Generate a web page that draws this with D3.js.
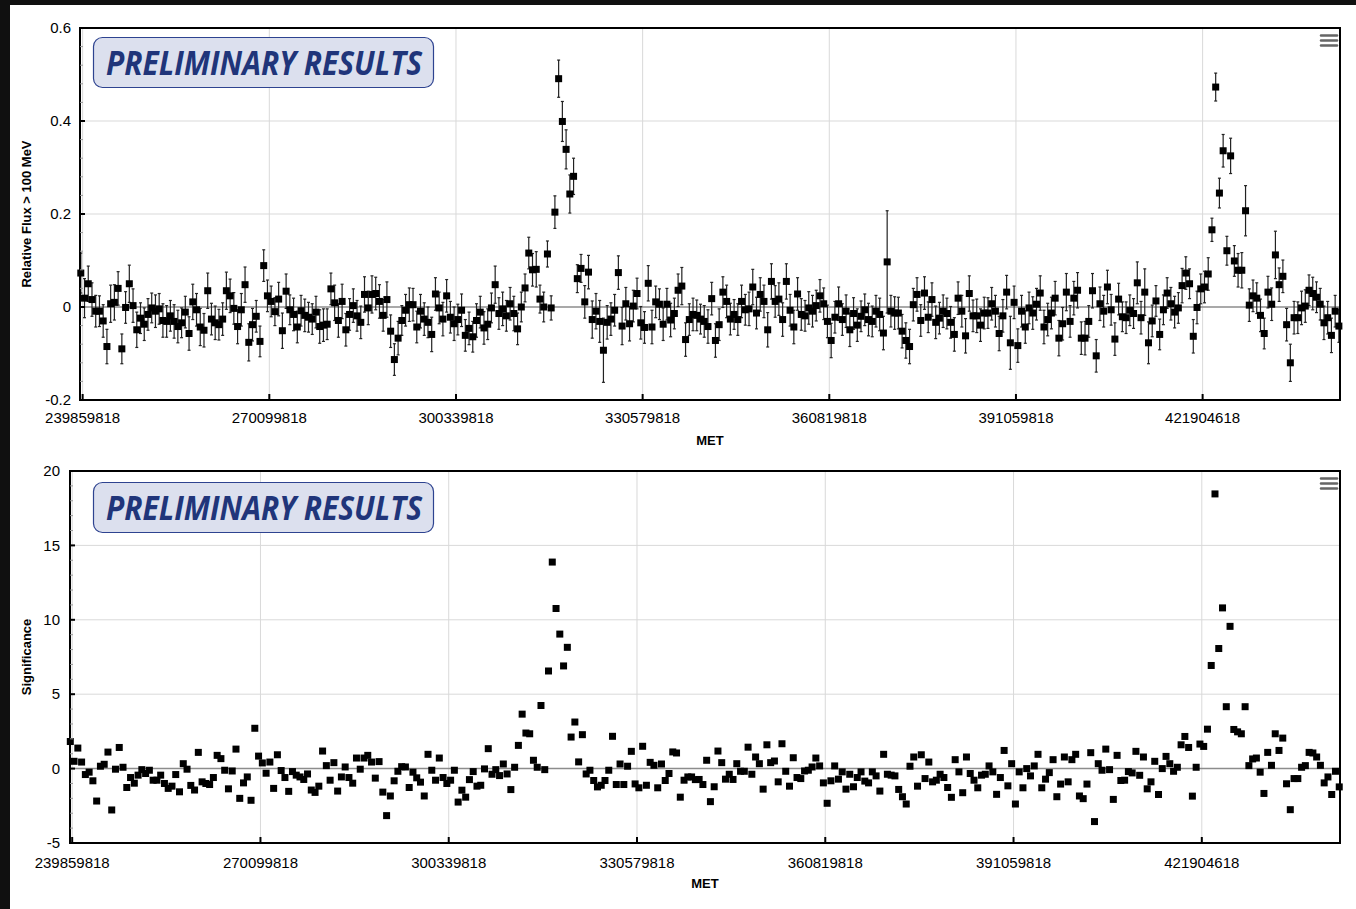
<!DOCTYPE html>
<html>
<head>
<meta charset="utf-8">
<script src="https://cdn.jsdelivr.net/npm/d3@7"></script>
<style>
  html, body { margin: 0; padding: 0; background: #101010; }
  svg { display: block; }
</style>
</head>
<body>
<svg id="chart" width="1356" height="909"></svg>
<script>
// weekly bins, one category each; labels are the MET of the labelled bin
const tickIdx = [0, 50, 100, 150, 200, 250, 300];
const tickLabels = ["239859818", "270099818", "300339818", "330579818", "360819818", "391059818", "421904618"];

const fluxTicks = [-0.2, 0, 0.2, 0.4, 0.6];
const sigTicks = [-5, 0, 5, 10, 15, 20];

// relative flux > 100 MeV, per week
const flux = [
  0.073,0.019,0.05,0.016,-0.009,-0.009,-0.03,-0.085,0.007,0.01,
  0.04,-0.09,-0.001,0.05,0.003,-0.049,-0.024,-0.037,-0.016,-0.002,
  -0.009,-0.004,-0.029,-0.031,-0.019,-0.031,-0.042,-0.034,-0.011,-0.057,
  0.011,-0.006,-0.043,-0.05,0.035,-0.026,-0.034,-0.038,-0.026,0.035,
  0.024,-0.003,-0.042,-0.006,0.048,-0.076,-0.038,-0.02,-0.074,0.089,
  0.024,0.012,-0.01,0.017,-0.051,0.034,-0.006,-0.016,-0.043,-0.008,
  -0.018,-0.022,-0.026,-0.011,-0.042,-0.039,-0.037,0.039,0.009,-0.029,
  0.012,-0.049,-0.016,0.003,-0.019,-0.033,0.027,-0.002,0.027,0.029,
  0.012,-0.018,0.016,-0.052,-0.113,-0.067,-0.029,-0.007,0.005,0.005,
  -0.043,-0.009,-0.026,-0.033,-0.059,0.028,-0.002,-0.026,0.024,-0.022,
  -0.036,-0.027,-0.007,-0.061,-0.046,-0.064,-0.029,-0.011,-0.045,-0.037,
  -0.002,0.048,-0.014,-0.004,-0.019,0.007,-0.014,-0.047,0,0.041,
  0.116,0.08,0.081,0.017,0,0.114,-0.002,0.204,0.491,0.399,
  0.339,0.243,0.281,0.061,0.083,0.011,0.075,-0.027,-0.009,-0.031,
  -0.093,-0.033,-0.026,-0.007,0.074,-0.041,0.007,-0.036,0.002,0.029,
  -0.034,-0.044,0.051,-0.043,0.011,0.006,-0.037,0.006,-0.028,-0.014,
  0.036,0.045,-0.07,-0.027,-0.016,-0.018,-0.026,-0.031,-0.042,0.018,
  -0.072,-0.038,0.032,0.012,-0.026,-0.016,-0.027,0.012,-0.006,-0.004,
  0.043,-0.013,0.027,0.012,-0.049,0.055,0.012,0.017,-0.027,0.055,
  -0.007,-0.043,0.028,-0.016,-0.019,-0.002,-0.009,0.003,0.024,0.007,
  -0.031,-0.072,-0.022,0.007,-0.027,-0.009,-0.049,-0.014,-0.039,-0.02,
  -0.006,-0.027,-0.031,-0.009,-0.016,-0.056,0.097,-0.009,-0.013,-0.013,
  -0.052,-0.072,-0.085,0.005,0.027,-0.029,0.03,-0.022,0.016,-0.033,
  -0.024,-0.009,-0.014,-0.033,-0.059,0.019,-0.009,-0.062,0.029,-0.019,
  -0.019,-0.039,-0.013,-0.013,0.007,-0.009,-0.057,-0.019,0.032,-0.077,
  0.01,-0.083,-0.009,-0.043,-0.002,-0.013,0.006,0.03,-0.043,-0.027,
  -0.013,0.019,-0.067,-0.036,0.032,-0.031,0.019,0.036,-0.067,-0.067,
  -0.031,0.035,-0.105,0.007,-0.009,0.043,-0.006,-0.069,0.017,-0.021,
  -0.023,-0.007,-0.014,0.052,-0.023,0.032,-0.077,-0.03,0.013,-0.059,
  -0.006,0.03,0.007,-0.011,-0.002,0.046,0.073,0.05,-0.063,-0.001,
  0.039,0.043,0.071,0.166,0.473,0.245,0.336,0.121,0.325,0.099,
  0.079,0.079,0.207,0.004,0.024,0.019,-0.018,-0.057,0.032,0.006,
  0.112,0.048,0.066,-0.038,-0.12,-0.023,-0.023,-0.002,0.002,0.036,
  0.029,0.021,0.006,-0.034,-0.023,-0.061,-0.009,-0.041
];

// half length of each error bar
const fluxErr = [
  0.043,0.042,0.038,0.036,0.034,0.033,0.035,0.037,0.04,0.038,
  0.036,0.032,0.034,0.04,0.036,0.038,0.033,0.035,0.034,0.032,
  0.035,0.033,0.036,0.034,0.033,0.036,0.035,0.032,0.034,0.036,
  0.038,0.035,0.04,0.036,0.038,0.034,0.036,0.033,0.035,0.04,
  0.036,0.034,0.037,0.035,0.038,0.04,0.035,0.034,0.033,0.034,
  0.034,0.033,0.03,0.036,0.038,0.037,0.032,0.035,0.034,0.033,
  0.035,0.032,0.033,0.034,0.036,0.035,0.033,0.034,0.038,0.036,
  0.037,0.035,0.034,0.036,0.033,0.035,0.038,0.036,0.04,0.035,
  0.036,0.034,0.038,0.035,0.034,0.036,0.032,0.034,0.036,0.035,
  0.034,0.036,0.035,0.033,0.037,0.035,0.034,0.036,0.035,0.034,
  0.036,0.033,0.035,0.034,0.035,0.033,0.036,0.034,0.035,0.033,
  0.032,0.04,0.034,0.036,0.033,0.035,0.037,0.034,0.032,0.03,
  0.034,0.035,0.038,0.03,0.032,0.028,0.026,0.035,0.04,0.043,
  0.042,0.041,0.039,0.03,0.03,0.035,0.036,0.04,0.038,0.045,
  0.069,0.036,0.035,0.034,0.036,0.04,0.035,0.037,0.034,0.033,
  0.035,0.034,0.038,0.036,0.034,0.033,0.035,0.034,0.036,0.033,
  0.035,0.04,0.036,0.034,0.035,0.033,0.032,0.034,0.036,0.035,
  0.036,0.034,0.033,0.035,0.034,0.032,0.034,0.035,0.033,0.036,
  0.038,0.034,0.036,0.035,0.037,0.038,0.034,0.035,0.036,0.038,
  0.034,0.036,0.035,0.034,0.033,0.035,0.034,0.033,0.035,0.034,
  0.035,0.037,0.034,0.036,0.034,0.035,0.036,0.034,0.035,0.033,
  0.034,0.035,0.033,0.034,0.035,0.036,0.11,0.034,0.035,0.034,
  0.036,0.038,0.037,0.035,0.036,0.034,0.035,0.033,0.036,0.035,
  0.034,0.035,0.033,0.034,0.036,0.035,0.034,0.037,0.038,0.034,
  0.036,0.035,0.034,0.033,0.035,0.034,0.037,0.035,0.036,0.057,
  0.035,0.036,0.034,0.035,0.034,0.035,0.034,0.037,0.036,0.035,
  0.034,0.036,0.038,0.035,0.04,0.034,0.036,0.038,0.035,0.036,
  0.034,0.037,0.035,0.036,0.034,0.036,0.033,0.035,0.034,0.032,
  0.034,0.033,0.032,0.045,0.035,0.05,0.045,0.034,0.033,0.033,
  0.032,0.033,0.035,0.034,0.033,0.037,0.035,0.032,0.036,0.035,
  0.032,0.034,0.035,0.025,0.03,0.032,0.035,0.031,0.038,0.033,
  0.036,0.038,0.054,0.035,0.034,0.033,0.035,0.033,0.034,0.035,
  0.051,0.036,0.035,0.035,0.04,0.035,0.034,0.036,0.035,0.033,
  0.035,0.033,0.034,0.036,0.035,0.037,0.034,0.035
];

// significance, same weekly bins
const signif = [
  1.82,0.49,1.38,0.44,-0.4,-0.24,-0.82,-2.18,0.16,0.29,
  1.11,-2.78,-0.04,1.42,0.09,-1.27,-0.6,-0.98,-0.44,-0.07,
  -0.33,-0.11,-0.78,-0.78,-0.44,-1.0,-1.33,-1.18,-0.4,-1.56,
  0.33,-0.04,-1.13,-1.44,1.09,-0.89,-1.0,-1.07,-0.6,0.89,
  0.67,-0.11,-1.36,-0.16,1.31,-2.0,-0.96,-0.56,-2.13,2.71,
  0.84,0.38,-0.31,0.44,-1.33,0.93,-0.13,-0.6,-1.53,-0.2,
  -0.44,-0.56,-0.73,-0.36,-1.44,-1.6,-1.18,1.18,0.2,-0.78,
  0.4,-1.51,-0.56,0.11,-0.6,-0.98,0.71,-0.04,0.71,0.89,
  0.44,-0.64,0.47,-1.58,-3.16,-1.84,-0.82,-0.18,0.13,0.11,
  -1.27,-0.24,-0.62,-0.91,-1.84,0.96,-0.11,-0.78,0.71,-0.6,
  -1.0,-0.78,-0.11,-2.25,-1.45,-1.92,-0.74,-0.2,-1.18,-1.12,
  -0.02,1.34,-0.38,-0.07,-0.47,0.31,-0.36,-1.41,0.09,1.56,
  3.66,2.39,2.34,0.56,0.09,4.24,-0.07,6.56,13.88,10.76,
  9.04,6.9,8.15,2.12,3.13,0.45,2.28,-0.36,-0.11,-0.8,
  -1.23,-1.12,-0.8,-0.11,2.17,-1.07,0.31,-1.07,0.16,1.16,
  -1.03,-1.29,1.5,-1.12,0.42,0.22,-1.29,0.31,-0.8,-0.33,
  1.12,1.05,-1.92,-0.78,-0.56,-0.56,-0.74,-0.73,-1.07,0.56,
  -2.22,-1.22,1.18,0.4,-0.71,-0.38,-0.73,0.33,-0.18,-0.18,
  1.44,-0.38,0.78,0.33,-1.38,1.6,0.4,0.51,-0.89,1.67,
  -0.18,-1.18,0.73,-0.6,-0.67,-0.16,-0.11,0.11,0.71,0.18,
  -0.96,-2.33,-0.82,0.18,-0.71,-0.22,-1.38,-0.38,-1.22,-0.6,
  -0.22,-0.84,-0.96,-0.22,-0.49,-1.51,0.96,-0.38,-0.44,-0.49,
  -1.4,-1.89,-2.38,0.16,0.78,-1.18,0.93,-0.67,0.44,-0.89,
  -0.78,-0.38,-0.6,-1.27,-1.93,0.6,-0.22,-1.62,0.78,-0.33,
  -0.78,-1.29,-0.44,-0.38,0.18,-0.22,-1.73,-0.6,1.22,-1.16,
  0.33,-2.38,-0.22,-1.29,0,-0.49,0.18,0.96,-1.29,-0.71,
  -0.27,0.6,-1.89,-1.04,0.78,-0.89,0.6,0.96,-1.84,-2.02,
  -1.04,1.07,-3.56,0.33,-0.11,1.31,-0.07,-2.07,0.89,-0.8,
  -0.78,-0.2,-0.29,1.16,-0.45,0.78,-1.36,-0.89,0.49,-1.74,
  0,0.82,0.33,-0.18,0.09,1.6,2.16,1.42,-1.85,0.09,
  1.65,1.49,2.65,6.93,18.46,8.07,10.8,4.16,9.56,2.63,
  2.47,2.34,4.16,0.2,0.65,0.71,-0.24,-1.67,1.09,0.22,
  2.34,1.22,2.05,-1.02,-2.76,-0.67,-0.67,0.09,0.2,1.09,
  1.05,0.78,0.22,-0.96,-0.56,-1.74,-0.18,-1.23
];

const svg = d3.select("#chart");

// white page area inside the dark frame
svg.append("rect")
  .attr("x", 10).attr("y", 5)
  .attr("width", 1346).attr("height", 904)
  .attr("fill", "#fff");

const panels = [
  { left: 80, right: 1340, top: 28, bottom: 400, xDomain: [-0.21, 337.3],
    yDomain: [-0.2, 0.6], yTicks: fluxTicks, minorStep: 0.04,
    values: flux, errors: fluxErr, title: "Relative Flux > 100 MeV",
    labelEnd: 71, xLabelY: 423, metY: 445, badgeY: 37 },
  { left: 70, right: 1340, top: 471, bottom: 843, xDomain: [-0.08, 337.2],
    yDomain: [-5, 20], yTicks: sigTicks, minorStep: 1,
    values: signif, errors: null, title: "Significance",
    labelEnd: 60, xLabelY: 868, metY: 888, badgeY: 482 }
];

function drawPanel(p) {
  const g = svg.append("g");

  const x = d3.scaleLinear().domain(p.xDomain).range([p.left, p.right]);
  const y = d3.scaleLinear().domain(p.yDomain).range([p.bottom, p.top]);

  // tick marks sit half a bin to the right of the point they label
  const tickPos = tickIdx.map(d => x(d + 0.5));

  // grid
  g.selectAll(".hgrid")
    .data(p.yTicks.filter(d => d !== 0))
    .join("line")
    .attr("x1", p.left).attr("x2", p.right)
    .attr("y1", d => y(d)).attr("y2", d => y(d))
    .attr("stroke", "#d9d9d9").attr("stroke-width", 1);

  g.selectAll(".vgrid")
    .data(tickPos)
    .join("line")
    .attr("x1", d => d).attr("x2", d => d)
    .attr("y1", p.top).attr("y2", p.bottom)
    .attr("stroke", "#d9d9d9").attr("stroke-width", 1);

  // zero line
  g.append("line")
    .attr("x1", p.left).attr("x2", p.right)
    .attr("y1", y(0)).attr("y2", y(0))
    .attr("stroke", "#8c8c8c").attr("stroke-width", 1.5);

  // error bars (flux panel only)
  if (p.errors) {
    const eb = g.append("g").attr("stroke", "#222").attr("stroke-width", 1.2);
    p.values.forEach((v, i) => {
      const cx = x(i);
      const y1 = y(v + p.errors[i]);
      const y2 = y(v - p.errors[i]);
      eb.append("line").attr("x1", cx).attr("x2", cx).attr("y1", y1).attr("y2", y2);
      eb.append("line").attr("x1", cx - 1.5).attr("x2", cx + 1.5).attr("y1", y1).attr("y2", y1);
      eb.append("line").attr("x1", cx - 1.5).attr("x2", cx + 1.5).attr("y1", y2).attr("y2", y2);
    });
  }

  // markers
  g.selectAll(".pt")
    .data(p.values)
    .join("rect")
    .attr("x", (d, i) => x(i) - 3.5)
    .attr("y", d => y(d) - 3.5)
    .attr("width", 7).attr("height", 7)
    .attr("fill", "#000");

  // plot frame
  g.append("rect")
    .attr("x", p.left).attr("y", p.top)
    .attr("width", p.right - p.left).attr("height", p.bottom - p.top)
    .attr("fill", "none").attr("stroke", "#000").attr("stroke-width", 2);

  // minor y ticks
  const minor = d3.range(p.yDomain[0], p.yDomain[1] + 1e-9, p.minorStep)
    .filter(v => !p.yTicks.some(t => Math.abs(t - v) < 1e-9));
  g.selectAll(".minor")
    .data(minor)
    .join("line")
    .attr("x1", p.left).attr("x2", p.left + 3)
    .attr("y1", d => y(d)).attr("y2", d => y(d))
    .attr("stroke", "#999").attr("stroke-width", 1);

  // major y ticks and labels
  g.selectAll(".ytick")
    .data(p.yTicks)
    .join("line")
    .attr("x1", p.left).attr("x2", p.left + 5)
    .attr("y1", d => y(d)).attr("y2", d => y(d))
    .attr("stroke", "#000").attr("stroke-width", 2);

  g.selectAll(".ylab")
    .data(p.yTicks)
    .join("text")
    .attr("x", p.labelEnd)
    .attr("y", d => y(d))
    .attr("dy", "0.35em")
    .attr("text-anchor", "end")
    .attr("font-family", "Liberation Sans, Arial, sans-serif")
    .attr("font-size", 15)
    .attr("fill", "#000")
    .text(d => String(d));

  // x ticks and labels
  g.selectAll(".xtick")
    .data(tickPos)
    .join("line")
    .attr("x1", d => d).attr("x2", d => d)
    .attr("y1", p.bottom).attr("y2", p.bottom - 6)
    .attr("stroke", "#000").attr("stroke-width", 2);

  g.selectAll(".xlab")
    .data(tickLabels)
    .join("text")
    .attr("x", (d, i) => tickPos[i])
    .attr("y", p.xLabelY)
    .attr("text-anchor", "middle")
    .attr("font-family", "Liberation Sans, Arial, sans-serif")
    .attr("font-size", 15)
    .attr("fill", "#000")
    .text(d => d);

  g.append("text")
    .attr("x", (p.left + p.right) / 2)
    .attr("y", p.metY)
    .attr("text-anchor", "middle")
    .attr("font-family", "Liberation Sans, Arial, sans-serif")
    .attr("font-size", 13)
    .attr("font-weight", "bold")
    .text("MET");

  g.append("text")
    .attr("transform", `translate(31,${(p.top + p.bottom) / 2}) rotate(-90)`)
    .attr("text-anchor", "middle")
    .attr("font-family", "Liberation Sans, Arial, sans-serif")
    .attr("font-size", 13)
    .attr("font-weight", "bold")
    .text(p.title);

  // preliminary badge
  g.append("rect")
    .attr("x", 93.5).attr("y", p.badgeY + 0.5)
    .attr("width", 340).attr("height", 50)
    .attr("rx", 9)
    .attr("fill", "#dce0ee")
    .attr("stroke", "#2e4390").attr("stroke-width", 1.2);

  g.append("text")
    .attr("x", 106).attr("y", p.badgeY + 38)
    .attr("font-family", "Open Sans, sans-serif")
    .attr("font-size", 34)
    .attr("font-weight", "bold")
    .attr("font-style", "italic")
    .attr("fill", "#20357a")
    .attr("textLength", 316)
    .attr("lengthAdjust", "spacingAndGlyphs")
    .text("PRELIMINARY RESULTS");

  // menu icon
  g.selectAll(".menu")
    .data([0, 5, 10])
    .join("line")
    .attr("x1", 1321).attr("x2", 1337)
    .attr("y1", d => p.top + 7.5 + d).attr("y2", d => p.top + 7.5 + d)
    .attr("stroke", "#666").attr("stroke-width", 2.5)
    .attr("stroke-linecap", "round");
}

panels.forEach(drawPanel);
</script>
</body>
</html>
